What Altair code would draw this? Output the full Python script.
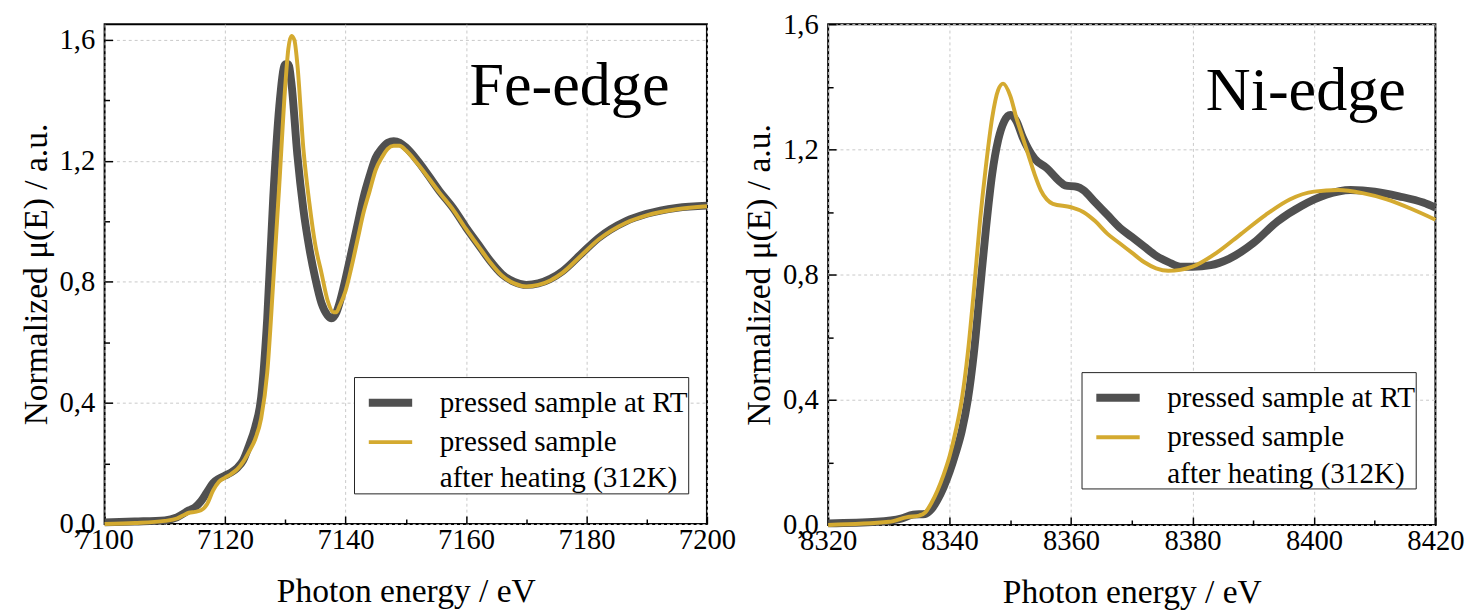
import altair as alt
import pandas as pd

# legend entries: the second sample's label is split over two legend rows
SERIES = ["pressed sample at RT", "pressed sample", "after heating (312K)"]
COLORS = ["#505050", "#d4aa30", "rgba(0,0,0,0)"]

# ---- Fe K-edge ----
fe_rt_e = [7100, 7105, 7110, 7112, 7114, 7115, 7116, 7117, 7118, 7119, 7120, 7121, 7122, 7123,
           7124, 7125, 7126, 7127, 7128, 7129, 7130, 7130.5, 7131, 7132, 7133, 7134, 7135, 7136,
           7137, 7137.7, 7138.5, 7139, 7140, 7141, 7142, 7143, 7144, 7145, 7146, 7147, 7148, 7149,
           7150, 7152, 7155.6, 7158, 7160, 7162, 7164, 7166, 7168, 7170, 7172, 7174, 7176, 7179, 7182,
           7186.5, 7190, 7195, 7200]
fe_rt_mu = [0.005, 0.008, 0.012, 0.022, 0.045, 0.055, 0.075, 0.105, 0.135, 0.15, 0.16, 0.17, 0.185, 0.21,
            0.26, 0.32, 0.42, 0.68, 1.08, 1.38, 1.52, 1.52, 1.46, 1.22, 1.04, 0.91, 0.81, 0.73,
            0.69, 0.68, 0.70, 0.73, 0.81, 0.90, 0.99, 1.08, 1.15, 1.21, 1.24, 1.26, 1.265, 1.26,
            1.245, 1.20, 1.10, 1.04, 0.98, 0.925, 0.87, 0.825, 0.80, 0.79, 0.795, 0.81, 0.835, 0.89, 0.945,
            1.00, 1.025, 1.045, 1.052]

fe_ht_e = [7100, 7105, 7110, 7112, 7113, 7114, 7115, 7116, 7117, 7118, 7119, 7120, 7121, 7122, 7123,
           7124, 7125, 7126, 7127, 7128, 7129, 7130, 7130.5, 7131, 7131.5, 7132, 7133, 7134, 7135,
           7136, 7137, 7138, 7138.5, 7139, 7140, 7141, 7142, 7143, 7144, 7145, 7146, 7147, 7148,
           7149, 7150, 7152, 7155.6, 7158, 7160, 7162, 7164, 7166, 7168, 7170, 7172, 7174, 7176, 7179, 7182,
           7186.5, 7190, 7195, 7200]
fe_ht_mu = [0.0, 0.003, 0.01, 0.018, 0.028, 0.037, 0.04, 0.045, 0.065, 0.11, 0.14, 0.153, 0.165, 0.18, 0.205,
            0.24, 0.28, 0.35, 0.50, 0.80, 1.12, 1.45, 1.57, 1.613, 1.60, 1.52, 1.24, 1.06, 0.92,
            0.83, 0.74, 0.70, 0.70, 0.72, 0.77, 0.85, 0.94, 1.03, 1.10, 1.17, 1.21, 1.24, 1.25,
            1.25, 1.235, 1.19, 1.095, 1.035, 0.975, 0.92, 0.865, 0.82, 0.795, 0.785, 0.79, 0.805, 0.83, 0.885, 0.94,
            0.995, 1.02, 1.04, 1.05]

# ---- Ni K-edge ----
ni_rt_e = [8320, 8328, 8332, 8334, 8336, 8337, 8338, 8339, 8340, 8341, 8342, 8343, 8344, 8345,
           8346, 8347, 8348, 8349, 8350, 8351, 8352, 8353, 8354, 8356, 8358, 8359, 8361, 8362,
           8364, 8366, 8368, 8370, 8372, 8374, 8376, 8378, 8380, 8383, 8386, 8390, 8394, 8398,
           8402, 8406, 8410, 8414, 8418, 8420]
ni_rt_mu = [0.005, 0.01, 0.02, 0.033, 0.035, 0.05, 0.08, 0.12, 0.17, 0.23, 0.30, 0.40, 0.55, 0.75,
            0.95, 1.12, 1.23, 1.29, 1.31, 1.29, 1.24, 1.20, 1.17, 1.14, 1.10, 1.085, 1.08, 1.07,
            1.03, 0.99, 0.95, 0.92, 0.89, 0.86, 0.84, 0.825, 0.825, 0.83, 0.85, 0.90, 0.97, 1.02,
            1.055, 1.07, 1.065, 1.05, 1.03, 1.014]

ni_ht_e = [8320, 8330, 8333, 8335, 8336, 8337, 8338, 8339, 8340, 8341, 8342, 8343, 8344, 8345,
           8346, 8347, 8348, 8348.8, 8350, 8351, 8352, 8353, 8354, 8355, 8356, 8357, 8360, 8362,
           8364, 8366, 8368, 8370, 8372, 8374, 8376, 8378, 8380, 8384, 8388, 8392, 8396, 8400,
           8404, 8408, 8412, 8416, 8420]
ni_ht_mu = [0.0, 0.01, 0.025, 0.03, 0.04, 0.07, 0.11, 0.16, 0.22, 0.30, 0.40, 0.55, 0.75, 0.97,
            1.15, 1.30, 1.39, 1.41, 1.37, 1.30, 1.24, 1.18, 1.12, 1.07, 1.04, 1.026, 1.015, 1.00,
            0.97, 0.93, 0.90, 0.87, 0.84, 0.82, 0.812, 0.815, 0.825, 0.87, 0.93, 0.99, 1.04, 1.065,
            1.07, 1.06, 1.04, 1.01, 0.975]

fe_xticks = [7100, 7120, 7140, 7160, 7180, 7200]
fe_xminor = [7110, 7130, 7150, 7170, 7190]
ni_xticks = [8320, 8340, 8360, 8380, 8400, 8420]
ni_xminor = [8330, 8350, 8370, 8390, 8410]
yticks = [0.0, 0.4, 0.8, 1.2, 1.6]
yminor = [0.2, 0.6, 1.0, 1.4]

FONT = "Liberation Serif, Times New Roman, DejaVu Serif, serif"


def make_df(e1, m1, e2, m2):
    a = pd.DataFrame({"E": e1, "mu": m1, "series": SERIES[0]})
    b = pd.DataFrame({"E": e2, "mu": m2, "series": SERIES[1]})
    return pd.concat([a, b], ignore_index=True)


def panel(df, xdom, ydom, xticks, xminor, label, w, h, label_x, label_y, leg_x, leg_y):
    legend = alt.Legend(
        title=None, orient="none", legendX=leg_x, legendY=leg_y,
        strokeColor="#222222", fillColor="white", padding=0,
        labelFont=FONT, labelFontSize=29.5, labelColor="black", labelLimit=0,
        symbolType="stroke", symbolSize=1936, symbolOffset=11, rowPadding=-11, labelOffset=24,
    )
    xs = alt.Scale(domain=xdom, nice=False, zero=False)
    ys = alt.Scale(domain=ydom, nice=False, zero=True)
    x = alt.X("E:Q", scale=xs,
              axis=alt.Axis(values=xticks, title="Photon energy / eV", format="d", orient="bottom",
                            grid=True, domain=False, offset=-8, tickSize=8, labelPadding=2,
                            labelFlush=False, titlePadding=21, titleFont=FONT, labelFont=FONT))
    y = alt.Y("mu:Q", scale=ys,
              axis=alt.Axis(values=yticks, title="Normalized μ(E) / a.u.", orient="left",
                            labelExpr="replace(format(datum.value, '.1f'), '.', ',')",
                            grid=True, domain=False, offset=-8, tickSize=8, labelPadding=10,
                            labelFlush=False, titlePadding=6, titleFont=FONT, labelFont=FONT))
    color = alt.Color("series:N", scale=alt.Scale(domain=SERIES, range=COLORS), legend=legend)
    sw = alt.StrokeWidth("series:N", scale=alt.Scale(domain=SERIES, range=[8, 0], padding=0),
                         legend=None)
    base = alt.Chart(df).mark_line(interpolate="monotone", strokeCap="butt").encode(
        x=x, y=y, color=color, strokeWidth=sw)
    l1 = base.transform_filter(alt.datum.series == SERIES[0])
    l2 = base.transform_filter(alt.datum.series == SERIES[1])
    txt = alt.Chart(pd.DataFrame({"t": [label]})).mark_text(
        font=FONT, fontSize=63, align="right", baseline="alphabetic", color="black"
    ).encode(text="t:N", x=alt.value(label_x), y=alt.value(label_y))
    main = alt.layer(l1, l2, txt)
    # invisible layer carrying the minor ticks
    minor = alt.Chart(df).mark_point(opacity=0, size=1).encode(
        x=alt.X("E:Q", scale=xs,
                axis=alt.Axis(values=xminor, orient="bottom", title=None, labels=False, grid=False,
                              domain=False, offset=-5, tickSize=5)),
        y=alt.Y("mu:Q", scale=ys,
                axis=alt.Axis(values=yminor, orient="left", title=None, labels=False, grid=False,
                              domain=False, offset=-5, tickSize=5)),
    )
    return alt.layer(main, minor).resolve_axis(x="independent", y="independent").properties(
        width=w, height=h)


fe = panel(make_df(fe_rt_e, fe_rt_mu, fe_ht_e, fe_ht_mu), [7100, 7200], [0, 1.652],
           fe_xticks, fe_xminor, "Fe-edge", 611, 507, 573, 82, 253, 358)
ni = panel(make_df(ni_rt_e, ni_rt_mu, ni_ht_e, ni_ht_mu), [8320, 8420], [0, 1.6],
           ni_xticks, ni_xminor, "Ni-edge", 616, 508, 586, 87, 257, 353)

chart = alt.hconcat(fe, ni, spacing=123, bounds="flush").resolve_scale(
    color="independent", strokeWidth="independent"
).resolve_legend(color="independent", strokeWidth="independent").configure(
    font=FONT, padding={"left": 10, "top": -3, "right": 0, "bottom": 0}
).configure_view(stroke="black", strokeWidth=2).configure_axis(
    labelFont=FONT, titleFont=FONT, labelFontSize=29, titleFontSize=34,
    labelColor="black", titleColor="black", titleFontWeight="normal",
    tickColor="black", tickWidth=1.5, gridColor="#c8c8c8", gridDash=[3, 3], gridWidth=1
)

chart.save("out.html", embed_options={"renderer": "svg", "actions": False})
